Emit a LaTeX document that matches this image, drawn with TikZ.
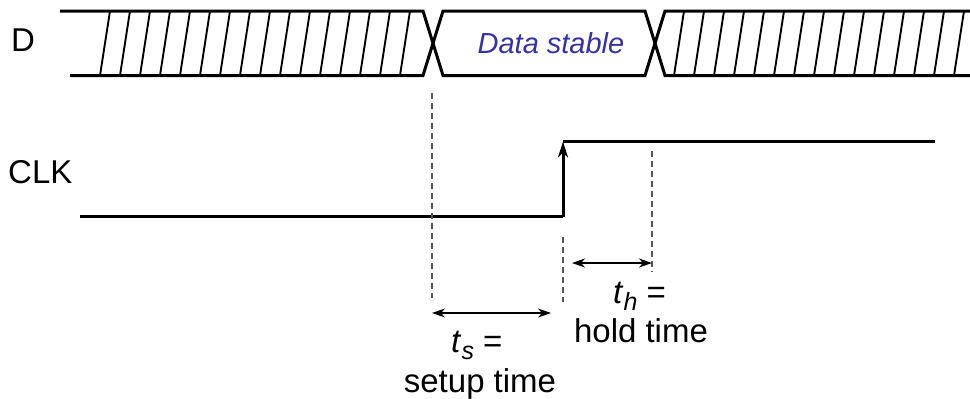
\documentclass[tikz,border=0pt]{standalone}
\usepackage{fontspec}
\setmainfont{Liberation Sans}
\usetikzlibrary{arrows.meta}
\definecolor{datablue}{RGB}{51,51,165}
\definecolor{dashgray}{RGB}{85,85,85}
\begin{document}
\begin{tikzpicture}[x=1pt,y=-1pt,
  bus/.style={line width=3pt, line join=miter},
  hatch/.style={line width=1.9pt},
  sig/.style={line width=3pt},
  guide/.style={dashgray, line width=1.2pt, dash pattern=on 6pt off 4pt},
  dimarrow/.style={line width=1.3pt, {Stealth[length=13pt,width=9pt,inset=4pt]}-{Stealth[length=13pt,width=9pt,inset=4pt]}},
  lbl/.style={font=\fontsize{33}{38}\selectfont, inner sep=0pt},
  datalbl/.style={font=\fontsize{29}{33}\selectfont\itshape, text=datablue, inner sep=0pt}
]
\useasboundingbox (0,0) rectangle (970,399);

% labels
\node[lbl, anchor=base west] (dlabel) at (11,51) {D};
\node[lbl, anchor=base west] (clklabel) at (8,183) {CLK};
\node[datalbl, anchor=base] (stable) at (551,53) {Data stable};

% data bus outline
\coordinate (tA) at (60,11);
\coordinate (bA) at (70,75.5);
\coordinate (x1t) at (423,11);
\coordinate (x1b) at (423,75.5);
\coordinate (x2t) at (443,11);
\coordinate (x2b) at (443,75.5);
\coordinate (x3t) at (645,11);
\coordinate (x3b) at (645,75.5);
\coordinate (x4t) at (665,11);
\coordinate (x4b) at (665,75.5);
\coordinate (tE) at (972,11);
\coordinate (bE) at (972,75.5);
\draw[bus] (tA) -- (x1t) -- (x2b) -- (x3b) -- (x4t) -- (tE);
\draw[bus] (bA) -- (x1b) -- (x2t) -- (x3t) -- (x4b) -- (bE);

% hatching
\foreach \b in {0,...,15}{
  \draw[hatch] (100+20*\b,75.5) -- (110+20*\b,11);
}
\foreach \b in {0,...,14}{
  \draw[hatch] (674+20*\b,75.5) -- (684+20*\b,11);
}

% clock
\coordinate (clkL) at (80,216.5);
\coordinate (edgeB) at (563,216.5);
\coordinate (edgeT) at (563,141.5);
\coordinate (clkR) at (935,141.5);
\draw[sig] (clkL) -- (edgeB);
\draw[sig, -{Stealth[length=16pt,width=10pt,inset=5pt]}] (edgeB) -- (edgeT);
\draw[sig] (edgeT) -- (clkR);

% guide lines
\coordinate (sgT) at (432,93);
\coordinate (sgB) at (432,298);
\coordinate (cgT) at (563,237);
\coordinate (cgB) at (563,302);
\coordinate (hgT) at (652,151);
\coordinate (hgB) at (652,272);
\draw[guide] (sgT) -- (sgB);
\draw[guide] (cgT) -- (cgB);
\draw[guide] (hgT) -- (hgB);

% dimension arrows
\coordinate (sa1) at (432,313);
\coordinate (sa2) at (551,313);
\coordinate (ha1) at (572,263);
\coordinate (ha2) at (652,263);
\draw[dimarrow] (sa1) -- (sa2);
\draw[dimarrow] (ha1) -- (ha2);

% time labels
\node[lbl, anchor=base west] (ts) at (451,352) {\textit{t}\raisebox{-7pt}{\fontsize{25}{25}\selectfont\itshape s} =};
\node[lbl, anchor=base] (setup) at (480,392) {setup time};
\node[lbl, anchor=base west] (th) at (613,303) {\textit{t}\raisebox{-7pt}{\fontsize{25}{25}\selectfont\itshape h} =};
\node[lbl, anchor=base] (hold) at (641,342) {hold time};
\end{tikzpicture}
\end{document}
